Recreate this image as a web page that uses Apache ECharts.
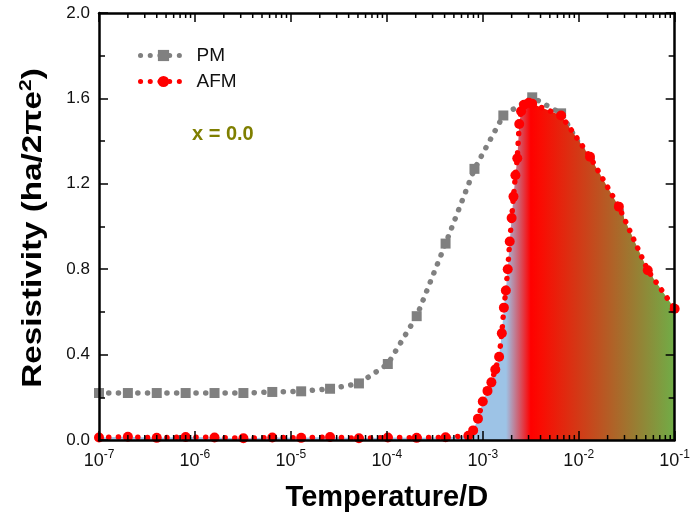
<!DOCTYPE html>
<html><head><meta charset="utf-8">
<script src="https://cdn.jsdelivr.net/npm/echarts@6/dist/echarts.min.js"></script>
<style>html,body{margin:0;padding:0;background:#fff}#c{width:693px;height:520px}</style>
</head><body><div id="c"></div>
<script>
// ---- data ----
const PM_T = [1e-7, 2e-7, 4e-7, 8e-7, 1.6e-6, 3.2e-6, 6.4e-6, 1.28e-5, 2.56e-5, 5.12e-5,
  1.024e-4, 2.048e-4, 4.096e-4, 8.192e-4, 1.6384e-3, 3.2768e-3, 6.5536e-3, 1.31072e-2, 2.62144e-2, 5.24288e-2];
const PM_R = [0.22, 0.22, 0.22, 0.22, 0.22, 0.22, 0.225, 0.228, 0.24, 0.265,
  0.356, 0.58, 0.92, 1.27, 1.52, 1.605, 1.53, 1.30, 1.06, 0.76];

const AFM_T = [1e-7, 2e-7, 4e-7, 8e-7, 1.6e-6, 3.2e-6, 6.4e-6, 1.28e-5, 2.56e-5, 5.12e-5,
  1.024e-4, 2.048e-4, 4.096e-4,
  7.08e-4, 7.94e-4, 8.91e-4, 1.00e-3, 1.12e-3, 1.23e-3, 1.35e-3, 1.48e-3, 1.58e-3, 1.66e-3,
  1.74e-3, 1.82e-3, 1.91e-3, 2.00e-3, 2.09e-3, 2.19e-3, 2.29e-3, 2.40e-3, 2.51e-3, 2.69e-3,
  3.02e-3, 3.2768e-3, 6.5536e-3, 1.31072e-2, 2.62144e-2, 5.24288e-2, 1.0e-1];
const AFM_R = [0.012, 0.015, 0.010, 0.014, 0.012, 0.008, 0.012, 0.010, 0.014, 0.008,
  0.012, 0.010, 0.013,
  0.020, 0.045, 0.10, 0.18, 0.23, 0.27, 0.33, 0.39, 0.50, 0.62,
  0.70, 0.80, 0.93, 1.04, 1.14, 1.24, 1.32, 1.48, 1.54, 1.57,
  1.58, 1.575, 1.52, 1.327, 1.093, 0.795, 0.615];

const X_MIN = 1e-7, X_MAX = 1e-1;
const Y_MIN = 0, Y_MAX = 2.0, Y_STEP = 0.4;
const DECADES = [1e-7, 1e-6, 1e-5, 1e-4, 1e-3, 1e-2];
const MINOR_MULT = [2, 3, 4, 5, 6, 7, 8, 9];

// ---- build ----
const FONT = '"Liberation Sans", Arial, sans-serif';
const pm = PM_T.map((t, i) => [t, PM_R[i]]);
const afm = AFM_T.map((t, i) => [t, AFM_R[i]]);
const minorTicks = [];
DECADES.forEach(d => MINOR_MULT.forEach(m => minorTicks.push([d * m, 1])));

const chart = echarts.init(document.getElementById('c'), null, {renderer: 'canvas'});

const DOT = [0.1, 9.6];
const frameLine = {show: true, onZero: false, lineStyle: {color: '#000', width: 2.5}};
const xCommon = {
  type: 'log', logBase: 10, min: X_MIN, max: X_MAX, splitNumber: 6,
  axisLine: frameLine, splitLine: {show: false}, z: 5,
  axisTick: {show: true, inside: true, length: 9, lineStyle: {color: '#000', width: 1.5}}
};
const yCommon = {
  type: 'value', min: Y_MIN, max: Y_MAX, interval: Y_STEP,
  axisLine: frameLine, splitLine: {show: false}, z: 5,
  axisTick: {show: true, inside: true, length: 9, lineStyle: {color: '#000', width: 1.5}},
  minorTick: {show: true, splitNumber: 2, length: 6, lineStyle: {color: '#000', width: 1.5}}
};

const option = {
  backgroundColor: '#fff',
  animation: false,
  grid: {left: 99, right: 13, top: 13, bottom: 80, containLabel: false},
  title: {
    text: 'x = 0.0', left: 192, top: 124, padding: 0,
    textStyle: {color: '#7f7f00', fontSize: 20, fontWeight: 'bold', fontFamily: FONT}
  },
  graphic: [{
    type: 'text', x: 34, y: 228, rotation: Math.PI / 2, scaleX: 1.23, scaleY: 1, z: 10,
    style: {
      text: '{t|Resistivity (ha/2πe}{s|2}{t|)}',
      align: 'center', verticalAlign: 'middle',
      rich: {
        t: {fontSize: 27, fontWeight: 'bold', fill: '#000', fontFamily: FONT},
        s: {fontSize: 17, fontWeight: 'bold', fill: '#000', fontFamily: FONT, padding: [0, 0, 16, 0]}
      }
    }
  }],
  legend: {
    orient: 'vertical', left: 138, top: 46, padding: 0, itemWidth: 46, itemHeight: 14, itemGap: 7,
    selectedMode: false,
    lineStyle: {width: 5, type: DOT, cap: 'round'},
    textStyle: {fontSize: 19, color: '#111', fontFamily: FONT, padding: [0, 0, 0, 5]},
    data: ['PM', 'AFM']
  },
  xAxis: [
    Object.assign({}, xCommon, {
      position: 'bottom',
      name: 'Temperature/D', nameLocation: 'middle', nameGap: 43,
      nameTextStyle: {fontSize: 29, fontWeight: 'bold', color: '#000', fontFamily: FONT},
      axisLabel: {
        margin: 9, color: '#111', fontFamily: FONT,
        formatter: v => '{b|10}{s|' + Math.round(Math.log10(v)) + '}',
        rich: {
          b: {fontSize: 18, fontFamily: FONT, color: '#111'},
          s: {fontSize: 12, fontFamily: FONT, color: '#111', padding: [0, 0, 12, 0]}
        }
      }
    }),
    Object.assign({}, xCommon, {position: 'top', axisLabel: {show: false}})
  ],
  yAxis: [
    Object.assign({}, yCommon, {
      position: 'left',
      axisLabel: {margin: 9, fontSize: 17, color: '#111', fontFamily: FONT, formatter: v => v.toFixed(1)}
    }),
    Object.assign({}, yCommon, {position: 'right', axisLabel: {show: false}})
  ],
  series: [
    {
      name: 'PM', type: 'line', data: pm, xAxisIndex: 0, yAxisIndex: 0,
      symbol: 'rect', symbolSize: 10, showAllSymbol: true,
      itemStyle: {color: '#808080'},
      lineStyle: {color: '#808080', width: 5.5, type: DOT, cap: 'round'},
      z: 2
    },
    {
      name: 'AFM', type: 'line', data: afm, xAxisIndex: 0, yAxisIndex: 0,
      symbol: 'circle', symbolSize: 10, showAllSymbol: true,
      itemStyle: {color: '#ff0000'},
      lineStyle: {color: '#ff0000', width: 5.5, type: DOT, cap: 'round'},
      areaStyle: {
        opacity: 1,
        color: new echarts.graphic.LinearGradient(0, 0, 1, 0, [
          {offset: 0, color: '#9dc3e6'},
          {offset: 0.707, color: '#9dc3e6'},
          {offset: 0.75, color: '#ff0000'},
          {offset: 0.765, color: '#fb0a02'},
          {offset: 1, color: '#70ad47'}
        ])
      },
      z: 3
    },
    {
      name: 'minorTicks', type: 'custom', data: minorTicks, xAxisIndex: 0, yAxisIndex: 0,
      silent: true, clip: false, z: 6, encode: {x: 0, y: 1},
      renderItem: function (params, api) {
        const x = api.coord([api.value(0), 1])[0];
        const cs = params.coordSys;
        const st = {stroke: '#000', lineWidth: 1.5};
        return {
          type: 'group', children: [
            {type: 'line', shape: {x1: x, y1: cs.y + cs.height, x2: x, y2: cs.y + cs.height - 5}, style: st},
            {type: 'line', shape: {x1: x, y1: cs.y, x2: x, y2: cs.y + 5}, style: st}
          ]
        };
      }
    }
  ]
};
chart.setOption(option);
</script>
</body></html>
